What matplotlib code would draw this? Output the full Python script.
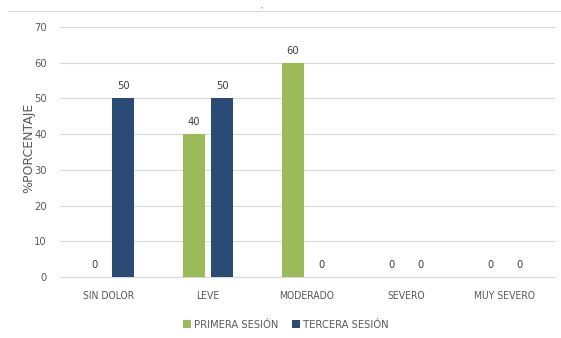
import matplotlib
matplotlib.use("Agg")
import matplotlib.pyplot as plt
import numpy as np
from matplotlib.lines import Line2D
from matplotlib import font_manager

categories = ["SIN DOLOR", "LEVE", "MODERADO", "SEVERO", "MUY SEVERO"]
primera = [0, 40, 60, 0, 0]
tercera = [50, 50, 0, 0, 0]
series_names = ["PRIMERA SESIÓN", "TERCERA SESIÓN"]
yticks = [0, 10, 20, 30, 40, 50, 60, 70]

names = {f.name for f in font_manager.fontManager.ttflist}
if 'Liberation Sans Narrow' in names:
    plt.rcParams['font.family'] = ['Liberation Sans Narrow', 'DejaVu Sans']
else:
    plt.rcParams['font.family'] = ['DejaVu Sans']
    plt.rcParams['font.stretch'] = 'condensed'

fig = plt.figure(figsize=(5.61, 3.38), dpi=100)
ax = fig.add_axes([59.5/561, 61/338, (554.5-59.5)/561, 250/338])

green = "#9BBB59"
blue = "#2B4B77"
txt = "#595959"

x = np.arange(len(categories))
w = 0.225
off = 0.145
b1 = ax.bar(x - off, primera, w, color=green, label=series_names[0], zorder=3)
b2 = ax.bar(x + off, tercera, w, color=blue, label=series_names[1], zorder=3)

for bars, vals in ((b1, primera), (b2, tercera)):
    for r, v in zip(bars, vals):
        ax.annotate(f"{v}", (r.get_x() + r.get_width()/2, v), xytext=(0, 5),
                    textcoords="offset points", ha="center", va="bottom",
                    fontsize=8, color="#404040")

ax.set_xlim(-0.5, len(categories) - 0.5)
ax.set_ylim(0, 70)
ax.set_yticks(yticks)
ax.set_xticks(x)
ax.set_xticklabels(categories)
ax.tick_params(axis='both', length=0, labelsize=8, colors=txt, pad=6)
ax.tick_params(axis='y', pad=9)
ax.tick_params(axis='x', pad=10, labelsize=7.5)
ax.grid(axis='y', color="#D9D9D9", linewidth=0.8, zorder=0)
for s in ["top", "right", "left"]:
    ax.spines[s].set_visible(False)
ax.spines["bottom"].set_color("#D9D9D9")
ax.set_ylabel("%PORCENTAJE", fontsize=9, color=txt, fontstretch='normal')
ax.yaxis.set_label_coords((35 - 59.5) / 495, (277 - 148) / 250)

fig.legend(handles=[b1, b2], labels=series_names, loc="center", bbox_to_anchor=(0.51, 1 - 325/338),
           ncol=2, frameon=False, fontsize=8, handlelength=0.7, handleheight=0.7,
           handletextpad=0.3, columnspacing=1.2, labelcolor=txt)

fig.add_artist(Line2D([8/561, 1.0], [1 - 11/338, 1 - 11/338], color="#D9D9D9", linewidth=0.8))
fig.text(262/561, 1 - 9/338, '"', fontsize=4, color="#888888", ha="center", va="center")

fig.savefig("out.png", dpi=100, facecolor="white")
